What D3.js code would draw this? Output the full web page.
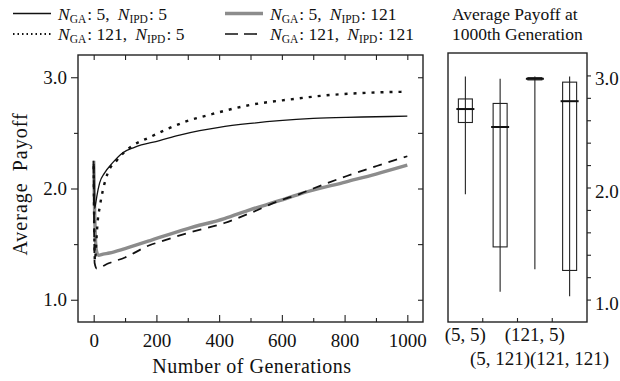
<!DOCTYPE html>
<html>
<head>
<meta charset="utf-8">
<script src="https://cdn.jsdelivr.net/npm/d3@7"></script>
<style>
  body { margin: 0; background: #fff; }
  svg text { font-family: "Liberation Serif", "Tinos", "DejaVu Serif", "Times New Roman", serif; fill: #111; }
</style>
</head>
<body>
<div id="chart"></div>
<script>
// series (generation -> average payoff)
const genA = [0, 1, 3, 6, 10, 19, 35, 60, 92, 130, 210, 274, 338, 400, 500, 592, 700, 806, 900, 1000];
const valA = [2.25, 2.1, 1.82, 1.86, 1.93, 2.05, 2.14, 2.23, 2.32, 2.37, 2.43, 2.48, 2.52, 2.55, 2.585, 2.61, 2.63, 2.64, 2.645, 2.65];

const genB = [0, 2, 4, 7, 10, 13, 19, 29, 45, 73, 99, 121, 178, 231, 292, 379, 497, 624, 752, 870, 1000];
const valB = [2.2, 1.6, 1.35, 1.45, 1.6, 1.71, 1.83, 1.98, 2.14, 2.25, 2.33, 2.38, 2.46, 2.53, 2.60, 2.67, 2.75, 2.80, 2.84, 2.86, 2.87];

const genC = [0, 3, 8, 15, 30, 50, 100, 178, 210, 300, 417, 500, 592, 656, 805, 900, 1000];
const valC = [2.25, 1.8, 1.45, 1.40, 1.41, 1.42, 1.46, 1.53, 1.56, 1.64, 1.73, 1.81, 1.89, 1.95, 2.06, 2.13, 2.21];

const genD = [0, 3, 10, 19, 50, 100, 178, 210, 300, 417, 500, 592, 656, 700, 805, 900, 1000];
const valD = [2.22, 1.33, 1.28, 1.29, 1.33, 1.38, 1.49, 1.52, 1.60, 1.69, 1.78, 1.89, 1.95, 2.0, 2.11, 2.2, 2.29];

const legendGA = ["5", "121", "5", "121"];
const legendIPD = ["5", "5", "121", "121"];

// box plot at generation 1000
const boxCats = ["(5, 5)", "(5, 121)", "(121, 5)", "(121, 121)"];
const boxMin = [1.94, 1.07, 1.27, 1.03];
const boxQ1 = [2.58, 1.47, 2.96, 1.26];
const boxMed = [2.70, 2.54, 2.97, 2.77];
const boxQ3 = [2.79, 2.75, 2.98, 2.94];
const boxMax = [2.99, 2.97, 2.99, 2.99];

const xTicks = [0, 200, 400, 600, 800, 1000];
const xMinor = [100, 300, 500, 700, 900];
const yTicks = [1.0, 2.0, 3.0];
const yMinor = [1.5, 2.5];
const boxTicks = [1.0, 1.2, 1.4, 1.6, 1.8, 2.0, 2.2, 2.4, 2.6, 2.8, 3.0];

const width = 620, height = 381;

const svg = d3.select("#chart")
    .append("svg")
    .attr("width", width)
    .attr("height", height);

/*
SCALES
*/
const main = {left: 78, right: 423, top: 55, bottom: 322};
const xScale = d3.scaleLinear().domain([-50, 1050]).range([main.left, main.right]);
const yScale = d3.scaleLinear().domain([0.8, 3.2]).range([main.bottom, main.top]);

const bp = {left: 448, right: 587, top: 53, bottom: 322};
const bxScale = d3.scaleBand().domain(boxCats).range([bp.left, bp.right]);
const byScale = d3.scaleLinear().domain([0.8, 3.2]).range([bp.bottom, bp.top]);

/*
MAIN AXES
*/
function clean(g){
    g.attr("font-family", null);
    g.select(".domain").remove();
    g.selectAll("line").attr("stroke", "#222").attr("stroke-width", 1.1);
    g.selectAll("text").style("font-size", "19px").attr("fill", "#111");
}

svg.append("g")
    .attr("transform", `translate(0,${main.bottom})`)
    .call(d3.axisBottom(xScale).tickValues(xTicks).tickSize(-7).tickPadding(12).tickFormat(d3.format("d")))
    .call(clean);
svg.append("g")
    .attr("transform", `translate(0,${main.bottom})`)
    .call(d3.axisBottom(xScale).tickValues(xMinor).tickSize(-4).tickFormat(""))
    .call(clean);
svg.append("g")
    .attr("transform", `translate(0,${main.top})`)
    .call(d3.axisTop(xScale).tickValues(xTicks.concat(xMinor)).tickSize(-5).tickFormat(""))
    .call(clean);
svg.append("g")
    .attr("transform", `translate(${main.left},0)`)
    .call(d3.axisLeft(yScale).tickValues(yTicks).tickSize(7).tickPadding(4).tickFormat(d3.format(".1f")))
    .call(clean);
svg.append("g")
    .attr("transform", `translate(${main.left},0)`)
    .call(d3.axisLeft(yScale).tickValues(yMinor).tickSize(4).tickFormat(""))
    .call(clean);
svg.append("g")
    .attr("transform", `translate(${main.right},0)`)
    .call(d3.axisRight(yScale).tickValues(yTicks.concat(yMinor)).tickSize(-5).tickFormat(""))
    .call(clean);

svg.append("rect")
    .attr("x", main.left).attr("y", main.top)
    .attr("width", main.right - main.left).attr("height", main.bottom - main.top)
    .attr("fill", "none").attr("stroke", "#222").attr("stroke-width", 1.4);

/*
LINES
*/
const line = d3.line()
    .x(d => xScale(d[0]))
    .y(d => yScale(d[1]))
    .curve(d3.curveMonotoneX);

const series = [
    {gen: genC, val: valC, color: "#8c8c8c", w: 3.4, dash: null},
    {gen: genD, val: valD, color: "#111", w: 1.8, dash: "9,7"},
    {gen: genB, val: valB, color: "#111", w: 2.4, dash: "3,6"},
    {gen: genA, val: valA, color: "#111", w: 1.3, dash: null}
];

series.forEach(function(s){
    svg.append("path")
        .datum(d3.zip(s.gen, s.val))
        .attr("d", line)
        .attr("fill", "none")
        .attr("stroke", s.color)
        .attr("stroke-width", s.w)
        .attr("stroke-dasharray", s.dash);
});

/*
LABELS
*/
svg.append("text")
    .attr("x", 252).attr("y", 373)
    .attr("text-anchor", "middle")
    .style("font-size", "20px")
    .style("letter-spacing", "0.5px")
    .text("Number of Generations");

svg.append("text")
    .attr("transform", "translate(27,184) rotate(-90)")
    .attr("text-anchor", "middle")
    .style("font-size", "20px")
    .style("letter-spacing", "1px")
    .style("word-spacing", "5px")
    .text("Average Payoff");

/*
LEGEND
*/
const legStyle = [
    {x: 13, y: 13.5, color: "#111", w: 1.3, dash: null},
    {x: 13, y: 34, color: "#111", w: 2, dash: "1.5,3"},
    {x: 225, y: 13.5, color: "#8c8c8c", w: 3.4, dash: null},
    {x: 225, y: 34, color: "#111", w: 1.6, dash: "13,6"}
];

legendGA.forEach(function(ga, i){
    const p = legStyle[i];
    svg.append("line")
        .attr("x1", p.x).attr("x2", p.x + 38)
        .attr("y1", p.y).attr("y2", p.y)
        .attr("stroke", p.color)
        .attr("stroke-width", p.w)
        .attr("stroke-dasharray", p.dash);

    const t = svg.append("text")
        .attr("x", p.x + 45)
        .attr("y", p.y + 6)
        .style("font-size", "17.5px");
    t.append("tspan").style("font-style", "italic").text("N");
    t.append("tspan").attr("dy", 3).style("font-size", "11.5px").text("GA");
    t.append("tspan").attr("dy", -3).attr("dx", 1).text(": " + ga + ",");
    t.append("tspan").attr("dx", 8).style("font-style", "italic").text("N");
    t.append("tspan").attr("dy", 3).style("font-size", "11.5px").text("IPD");
    t.append("tspan").attr("dy", -3).attr("dx", 1).text(": " + legendIPD[i]);
});

svg.append("text")
    .attr("x", 452).attr("y", 19.5)
    .style("font-size", "17.5px")
    .text("Average Payoff at");
svg.append("text")
    .attr("x", 452).attr("y", 40)
    .style("font-size", "17.5px")
    .text("1000th Generation");

/*
BOX PANEL
*/
svg.append("g")
    .attr("transform", `translate(${bp.right},0)`)
    .call(d3.axisRight(byScale).tickValues(boxTicks).tickSize(4).tickPadding(4)
        .tickFormat(d => (Math.abs(d - Math.round(d)) < 1e-6) ? d3.format(".1f")(d) : ""))
    .call(clean)
    .selectAll("text").attr("dy", "0.5em");

svg.append("rect")
    .attr("x", bp.left).attr("y", bp.top)
    .attr("width", bp.right - bp.left).attr("height", bp.bottom - bp.top)
    .attr("fill", "none").attr("stroke", "#222").attr("stroke-width", 1.4);

svg.selectAll(".catTick")
    .data(boxCats.slice(1))
    .enter()
    .append("line")
    .attr("class", "catTick")
    .attr("x1", d => bxScale(d)).attr("x2", d => bxScale(d))
    .attr("y1", bp.bottom).attr("y2", bp.bottom - 4)
    .attr("stroke", "#222").attr("stroke-width", 1.1);

const bw = 14;
boxCats.forEach(function(c, i){
    const cx = bxScale(c) + bxScale.bandwidth() / 2;
    svg.append("line")
        .attr("x1", cx).attr("x2", cx)
        .attr("y1", byScale(boxMin[i])).attr("y2", byScale(boxMax[i]))
        .attr("stroke", "#222").attr("stroke-width", 1.1);
    svg.append("rect")
        .attr("x", cx - bw / 2).attr("width", bw)
        .attr("y", byScale(boxQ3[i]))
        .attr("height", byScale(boxQ1[i]) - byScale(boxQ3[i]))
        .attr("fill", "none").attr("stroke", "#222").attr("stroke-width", 1.1);
    svg.append("line")
        .attr("x1", cx - bw / 2 - 2).attr("x2", cx + bw / 2 + 2)
        .attr("y1", byScale(boxMed[i])).attr("y2", byScale(boxMed[i]))
        .attr("stroke", "#111").attr("stroke-width", 2);

    svg.append("text")
        .attr("x", cx)
        .attr("y", i % 2 == 0 ? 341 : 365)
        .attr("text-anchor", "middle")
        .style("font-size", "19px")
        .text(c);
});
</script>
</body>
</html>
